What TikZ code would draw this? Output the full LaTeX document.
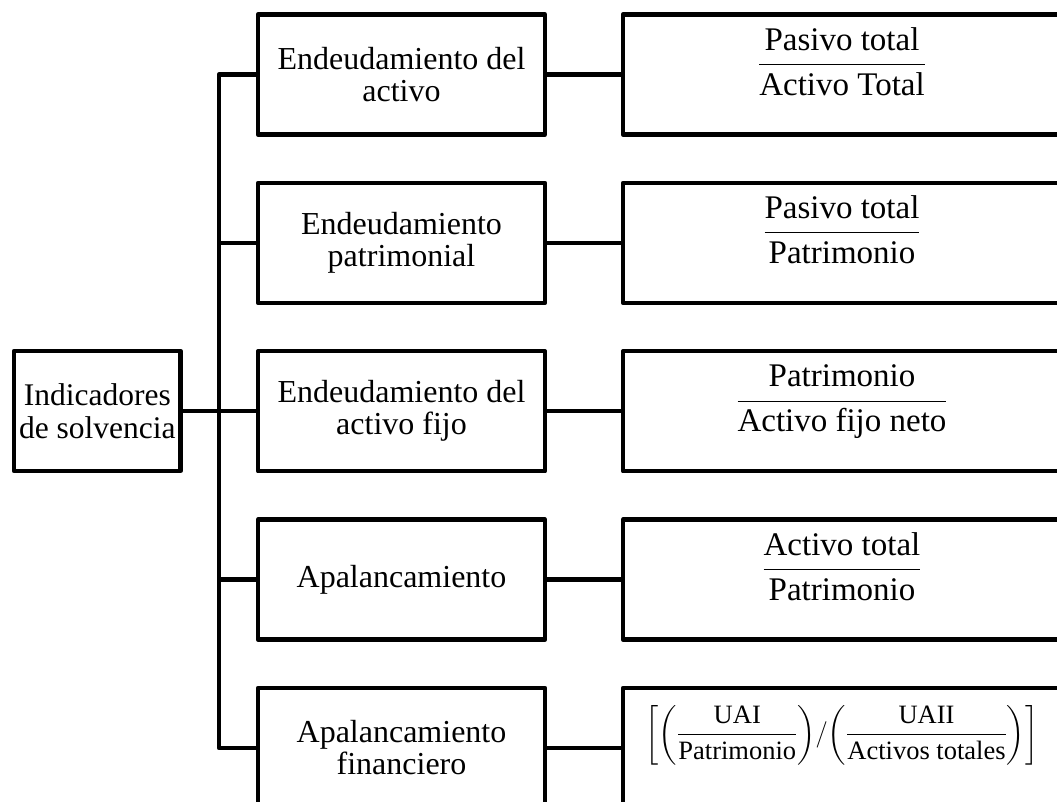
\RequirePackage{fix-cm}
\documentclass[tikz,border=0pt]{standalone}
\usepackage{amsmath}
\usepackage{fontspec}
\setmainfont{Liberation Serif}
\usetikzlibrary{calc}

\begin{document}
\begin{tikzpicture}[x=1pt,y=-1pt,line width=4.3pt,line join=round,
  box/.style={draw,line width=4.3pt,minimum height=120pt,inner sep=0pt,align=center},
  midbox/.style={box,minimum width=287pt,font=\fontsize{32}{32}\selectfont},
  fracbox/.style={box,minimum width=438pt},
  formula/.style={anchor=base,yshift=2pt,inner sep=0pt,font=\fontsize{33}{40}\selectfont}]
  \useasboundingbox (0,0) rectangle (1057,802);
  \clip (0,0) rectangle (1057,802);
  % left box
  \node[box,minimum width=166.5pt,font=\fontsize{31.5}{33}\selectfont] (ind) at (97.3,411) {Indicadores\\de solvencia};
  % middle column
  \node[midbox] (m1) at (401.5,74.5) {Endeudamiento del\\activo};
  \node[midbox] (m2) at (401.5,242.9) {Endeudamiento\\patrimonial};
  \node[midbox] (m3) at (401.5,411.3) {Endeudamiento del\\activo fijo};
  \node[midbox] (m4) at (401.5,579.6) {Apalancamiento};
  \node[midbox] (m5) at (401.5,748) {Apalancamiento\\financiero};
  % right column
  \node[fracbox] (r1) at (842,74.5) {};
  \node[fracbox] (r2) at (842,242.9) {};
  \node[fracbox] (r3) at (842,411.3) {};
  \node[fracbox] (r4) at (842,579.6) {};
  \node[fracbox] (r5) at (842,748) {};
  \node[formula] (f1) at (r1.center) {$\dfrac{\text{Pasivo total}}{\text{Activo Total}}$};
  \node[formula] (f2) at (r2.center) {$\dfrac{\text{Pasivo total}}{\text{Patrimonio}}$};
  \node[formula] (f3) at (r3.center) {$\dfrac{\text{Patrimonio}}{\text{Activo fijo neto}}$};
  \node[formula] (f4) at (r4.center) {$\dfrac{\text{Activo total}}{\text{Patrimonio}}$};
  \node[formula,yshift=4.5pt,font=\fontsize{26.5}{30}\selectfont] (f5) at (r5.center)
    {$\left[{\left(\dfrac{\text{UAI}}{\text{Patrimonio}}\right)}/{\left(\dfrac{\text{UAII}}{\text{Activos totales}}\right)}\right]$};
  % connectors
  \coordinate (tt) at (219,74.5);
  \coordinate (tb) at (219,748);
  \draw (m1.west) -- (tt) -- (tb) -- (m5.west);
  \draw (ind.east) -- (ind.east -| tt);
  \foreach \i in {2,3,4} \draw (m\i.west -| tt) -- (m\i.west);
  \foreach \i in {1,...,5} \draw (m\i.east) -- (r\i.west);
\end{tikzpicture}
\end{document}
